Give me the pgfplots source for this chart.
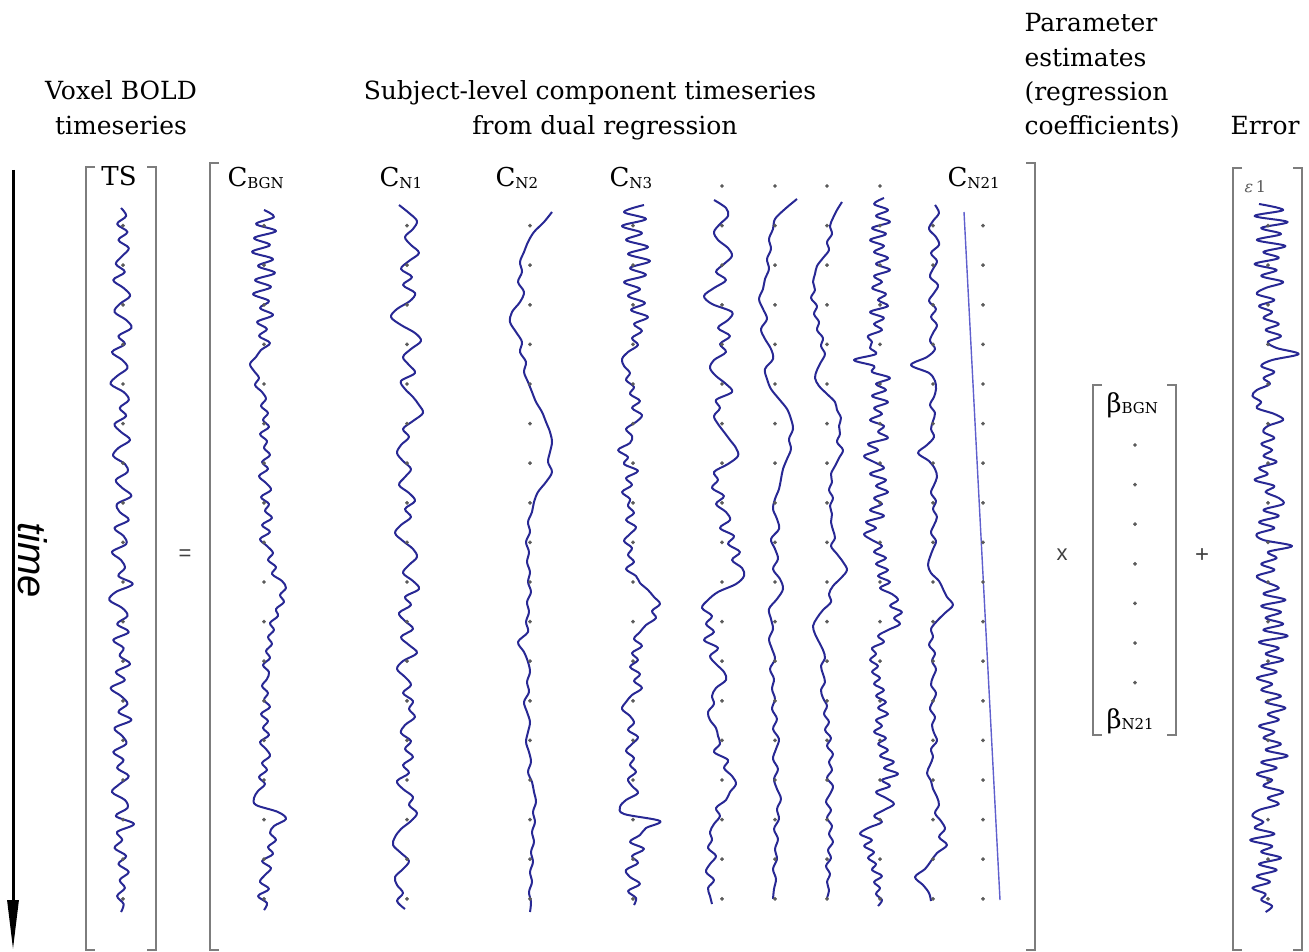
\documentclass[border=0pt]{standalone}
\usepackage{pgfplots}
\pgfplotsset{compat=1.18}
\usepackage{pgfplotstable}
\usetikzlibrary{arrows.meta}
\usepackage{fontspec}
\setmainfont{DejaVu Serif}
\newfontfamily\sansf{Liberation Sans}
\definecolor{serblue}{RGB}{40,40,148}
\definecolor{lineblue}{RGB}{95,95,205}
\definecolor{brk}{RGB}{125,125,125}
\definecolor{dotc}{RGB}{90,90,90}
\newcommand\fs[1]{\fontsize{#1}{#1}\selectfont}
\newcommand\Cl[2]{#1\raisebox{-1.5pt}{\fs{15}#2}}
\pgfplotstableread[row sep=\\]{y\\186\\225.6\\265.2\\304.8\\344.4\\384.0\\423.6\\463.2\\502.8\\542.4\\582.0\\621.6\\661.2\\700.8\\740.4\\780.0\\819.6\\859.2\\898.8\\}\rowsA
\pgfplotstableread[row sep=\\]{y\\225.6\\265.2\\304.8\\344.4\\384.0\\423.6\\463.2\\502.8\\542.4\\582.0\\621.6\\661.2\\700.8\\740.4\\780.0\\819.6\\859.2\\898.8\\}\rowsB
\pgfplotstableread[row sep=\\]{y\\445.0\\484.6\\524.2\\563.8\\603.4\\643.0\\682.6\\}\rowsC
\tikzset{ser/.style={color=serblue, line width=2pt, no markers, smooth, tension=0.55, line join=round},
  dts/.style={dotc, only marks, mark=*, mark size=1.7pt},
  brk/.style={draw=brk, line width=2.6pt}}
\begin{document}
\begin{tikzpicture}
\begin{axis}[width=1309pt,height=952pt,scale only axis,xmin=0,xmax=1309,ymin=0,ymax=952,
  y dir=reverse,axis lines=none,ticks=none,clip=false]
% grid dots
\addplot[dts] table[x expr=123,y=y]{\rowsB};
\addplot[dts] table[x expr=264,y=y]{\rowsB};
\addplot[dts] table[x expr=407,y=y]{\rowsB};
\addplot[dts] table[x expr=530,y=y]{\rowsB};
\addplot[dts] table[x expr=633,y=y]{\rowsB};
\addplot[dts] table[x expr=722,y=y]{\rowsA};
\addplot[dts] table[x expr=775,y=y]{\rowsA};
\addplot[dts] table[x expr=827,y=y]{\rowsA};
\addplot[dts] table[x expr=880,y=y]{\rowsA};
\addplot[dts] table[x expr=933,y=y]{\rowsB};
\addplot[dts] table[x expr=983,y=y]{\rowsB};
\addplot[dts] table[x expr=1268,y=y]{\rowsB};
\addplot[dts] table[x expr=1135,y=y]{\rowsC};
% TS
\addplot[ser] table[row sep=\\, x expr=121+1.3*\thisrow{d}, y expr=208+8*\coordindex]{d\\
0\\4\\-3\\5\\-2\\6\\1\\-4\\3\\-6\\2\\7\\-1\\-5\\4\\8\\-2\\3\\-7\\1\\5\\-3\\-8\\2\\6\\-1\\4\\-5\\0\\7\\
-2\\-6\\3\\5\\-4\\1\\8\\-3\\-1\\6\\-5\\2\\4\\-7\\0\\3\\-2\\9\\-4\\-9\\1\\5\\-3\\6\\-6\\2\\-1\\7\\-4\\3\\
-8\\0\\5\\-2\\8\\-5\\1\\4\\-6\\2\\-3\\6\\-1\\-7\\3\\5\\-4\\10\\-3\\1\\-5\\4\\-2\\6\\-1\\3\\-3\\2\\0\\};
% C_BGN
\addplot[ser] table[row sep=\\, x expr=264+\thisrow{d}, y expr=210+7*\coordindex]{d\\
0\\10\\-8\\12\\-10\\6\\-12\\9\\-6\\11\\-9\\7\\-11\\5\\-4\\9\\-7\\3\\-5\\6\\-3\\-8\\-14\\-10\\-5\\-9\\-2\\2\\-3\\4\\
-1\\5\\-4\\3\\0\\6\\-2\\4\\-5\\2\\7\\-3\\5\\1\\8\\-2\\6\\-4\\3\\9\\4\\12\\8\\18\\22\\16\\20\\12\\14\\6\\
10\\4\\8\\2\\6\\-1\\5\\3\\-2\\4\\0\\6\\-3\\4\\-1\\5\\-4\\2\\6\\-2\\3\\-5\\1\\-6\\-10\\-8\\14\\22\\10\\6\\
12\\4\\9\\-2\\7\\1\\-4\\5\\-6\\3\\0\\};
% C_N1
\addplot[ser] table[row sep=\\, x expr=407+\thisrow{d}, y expr=205+8*\coordindex]{d\\
-8\\2\\10\\6\\-2\\4\\12\\2\\-6\\5\\-4\\8\\3\\-10\\-16\\-6\\8\\14\\4\\-4\\2\\8\\-6\\-2\\6\\12\\16\\6\\-4\\2\\
-6\\-10\\-4\\4\\-2\\-8\\2\\8\\-2\\4\\-6\\-12\\-4\\6\\10\\2\\-4\\6\\12\\-2\\4\\-8\\-2\\6\\-6\\2\\10\\-4\\-10\\-2\\
4\\-4\\6\\2\\8\\-2\\-6\\4\\-2\\6\\-4\\2\\-10\\-4\\6\\2\\10\\4\\-6\\-12\\-14\\-6\\2\\-4\\-12\\-10\\-4\\-10\\-2\\};
% C_N2
\addplot[ser] table[row sep=\\, x expr=530+\thisrow{d}, y expr=212+10*\coordindex]{d\\
22\\14\\4\\-2\\-6\\-10\\-8\\-12\\-6\\-10\\-18\\-20\\-14\\-8\\-10\\-4\\-6\\-2\\2\\6\\12\\16\\20\\22\\20\\18\\22\\16\\8\\4\\
2\\-2\\0\\-4\\-1\\-3\\0\\-2\\1\\-3\\-1\\-4\\-2\\-12\\-6\\-2\\0\\-3\\-1\\-6\\-3\\0\\-2\\-4\\-1\\1\\-2\\2\\4\\6\\
3\\5\\2\\4\\1\\3\\0\\2\\-1\\1\\0\\};
% C_N3
\addplot[ser] table[row sep=\\, x expr=636+\thisrow{d}, y expr=205+7*\coordindex]{d\\
8\\-12\\10\\-14\\6\\-10\\12\\-8\\14\\-6\\10\\-12\\4\\-8\\9\\-5\\12\\-2\\6\\-4\\2\\-8\\-14\\-12\\-6\\-10\\-2\\-6\\4\\-4\\
6\\0\\-10\\-4\\-6\\-18\\-8\\-12\\2\\-10\\-4\\-14\\-6\\-8\\-2\\-10\\0\\-6\\-12\\-4\\-8\\-2\\-10\\0\\4\\12\\18\\24\\16\\20\\
10\\4\\-2\\6\\-4\\2\\-6\\4\\-2\\6\\-4\\-10\\-14\\-6\\-2\\-8\\2\\-4\\-10\\-2\\-6\\0\\-8\\-4\\2\\-10\\-16\\-12\\24\\10\\
4\\-6\\8\\-4\\2\\-10\\-6\\4\\-8\\0\\-2\\};
% col 5
\addplot[ser] table[row sep=\\, x expr=722+\thisrow{d}, y expr=200+8*\coordindex]{d\\
-8\\4\\6\\-2\\-8\\-4\\6\\10\\2\\-6\\4\\-8\\-18\\-10\\10\\6\\-4\\8\\-2\\4\\-8\\-12\\-6\\4\\10\\-6\\-2\\-8\\-4\\2\\
8\\14\\16\\6\\-8\\-4\\-10\\2\\-6\\4\\8\\-2\\12\\6\\18\\10\\20\\22\\14\\-4\\-14\\-20\\-10\\-16\\-8\\-18\\-4\\-12\\-6\\2\\
4\\-6\\-10\\-8\\-14\\-12\\-6\\-4\\-2\\-8\\6\\2\\10\\14\\8\\4\\-6\\-2\\-8\\-12\\-10\\-14\\-6\\-12\\-16\\-8\\-14\\-12\\-10\\};
% col 6
\addplot[ser] table[row sep=\\, x expr=775+\thisrow{d}, y expr=199+10*\coordindex]{d\\
22\\10\\0\\-2\\-6\\-4\\-8\\-6\\-10\\-12\\-16\\-12\\-8\\-14\\-10\\-4\\-2\\-10\\-8\\-4\\4\\12\\16\\18\\14\\16\\12\\8\\6\\4\\
0\\-2\\2\\4\\-4\\0\\3\\-2\\5\\8\\2\\-6\\-4\\-2\\-6\\-3\\0\\-5\\-1\\-3\\0\\-3\\2\\-2\\4\\1\\-2\\3\\-1\\2\\
6\\2\\4\\-1\\3\\0\\2\\-2\\1\\-1\\-2\\};
% col 7
\addplot[ser] table[row sep=\\, x expr=827+\thisrow{d}, y expr=202+8*\coordindex]{d\\
15\\10\\6\\3\\5\\0\\2\\-4\\-10\\-12\\-14\\-12\\-16\\-10\\-13\\-8\\-10\\-4\\-6\\-2\\-6\\-10\\-12\\-8\\0\\8\\10\\14\\12\\13\\
10\\16\\12\\8\\4\\5\\2\\6\\3\\5\\4\\6\\8\\4\\10\\16\\20\\14\\6\\2\\4\\-4\\-10\\-14\\-12\\-8\\-4\\-2\\-6\\-4\\
-2\\-6\\-4\\0\\-3\\2\\-2\\4\\0\\6\\2\\5\\0\\6\\3\\-1\\4\\0\\5\\2\\6\\1\\4\\-1\\3\\0\\2\\0\\};
% col 8
\addplot[ser] table[row sep=\\, x expr=880+\thisrow{d}, y expr=198+6*\coordindex]{d\\
4\\-6\\8\\-4\\10\\-8\\6\\-10\\4\\-6\\8\\-4\\10\\-6\\2\\-8\\6\\-2\\8\\-10\\4\\-6\\2\\-12\\-8\\-10\\-4\\-26\\-6\\-8\\
10\\-4\\6\\-8\\8\\-6\\2\\-10\\4\\-2\\8\\-12\\-2\\-16\\-6\\4\\-10\\6\\-4\\8\\-6\\2\\-10\\4\\-14\\-4\\-16\\-8\\2\\-6\\
6\\-4\\8\\-2\\10\\0\\12\\18\\10\\22\\14\\20\\8\\-2\\4\\-8\\-4\\-10\\-2\\-8\\0\\-6\\4\\-4\\6\\-2\\8\\-4\\2\\-6\\
6\\-2\\8\\0\\14\\4\\18\\2\\10\\-4\\6\\14\\4\\-6\\2\\-12\\-20\\-8\\-16\\-6\\-12\\-4\\-8\\2\\-6\\0\\-4\\2\\-2\\};
% col 9
\addplot[ser] table[row sep=\\, x expr=933+\thisrow{d}, y expr=205+8*\coordindex]{d\\
2\\6\\0\\-4\\3\\6\\-2\\4\\0\\-3\\5\\1\\-4\\3\\-2\\4\\0\\-3\\2\\-6\\-22\\-4\\2\\3\\1\\-3\\2\\0\\-2\\1\\
-6\\-15\\-4\\2\\4\\1\\-2\\3\\0\\4\\1\\-2\\3\\0\\-3\\-5\\-2\\6\\10\\14\\20\\12\\4\\-2\\0\\-4\\2\\-1\\3\\0\\
-2\\3\\0\\-3\\2\\-1\\1\\4\\-2\\0\\-3\\-6\\-2\\0\\4\\6\\2\\8\\12\\6\\14\\4\\-2\\-8\\-18\\-10\\-4\\-2\\};
% C_N21
\addplot[lineblue, line width=1.4pt, no markers] coordinates {(964,212) (1000,900)};
% Error
\addplot[ser] table[row sep=\\, x expr=1270+1.1*\thisrow{d}, y expr=204+6*\coordindex]{d\\
-10\\12\\-14\\16\\-8\\10\\-12\\14\\-6\\8\\-14\\6\\-8\\12\\-4\\-12\\4\\-10\\2\\-6\\8\\-4\\10\\-2\\6\\26\\2\\-8\\4\\-6\\
0\\-12\\-16\\-8\\-12\\4\\12\\-2\\-6\\4\\-8\\2\\-6\\6\\-10\\-2\\-14\\4\\-4\\8\\12\\-6\\8\\-10\\4\\-12\\-6\\20\\-2\\6\\
-8\\4\\-12\\-4\\8\\-6\\14\\-8\\10\\-4\\12\\-6\\16\\-10\\8\\-4\\12\\-8\\6\\-12\\2\\-8\\10\\-4\\14\\-2\\8\\-10\\4\\-6\\
10\\-4\\16\\-8\\6\\-12\\2\\-6\\12\\-2\\8\\-10\\-16\\-6\\-14\\4\\-18\\2\\-8\\10\\-10\\6\\-12\\0\\-16\\-4\\-8\\2\\-4\\};
% brackets
\draw[brk] (95,167) -- (86,167) -- (86,950) -- (95,950);
\draw[brk] (147,167) -- (156,167) -- (156,950) -- (147,950);
\draw[brk] (219,163) -- (210,163) -- (210,950) -- (219,950);
\draw[brk] (1026,163) -- (1035,163) -- (1035,950) -- (1026,950);
\draw[brk] (1102,385) -- (1093,385) -- (1093,735) -- (1102,735);
\draw[brk] (1167,385) -- (1176,385) -- (1176,735) -- (1167,735);
\draw[brk] (1242,168) -- (1233,168) -- (1233,950) -- (1242,950);
\draw[brk] (1293,168) -- (1302,168) -- (1302,950) -- (1293,950);
% time arrow
\draw[black, line width=3pt, -{Triangle[length=50pt,width=11pt]}] (13,170) -- (13,950);
\node[rotate=-90, font=\sansf\itshape\fs{40}] at (33,560) {time};
% operators
\node[font=\sansf\fs{22}, text=black!75] at (185,555) {=};
\node[font=\sansf\fs{22}, text=black!75] at (1062,555) {x};
\node[font=\sansf\fs{24}, text=black!75] at (1202,556) {+};
% titles
\node[anchor=base, font=\fs{25}] at (121,100) {Voxel BOLD};
\node[anchor=base, font=\fs{25}] at (121,135) {timeseries};
\node[anchor=base, font=\fs{25}] at (590,100) {Subject-level component timeseries};
\node[anchor=base, font=\fs{25}] at (605,135) {from dual regression};
\node[anchor=base west, font=\fs{25}] at (1021,32) {Parameter};
\node[anchor=base west, font=\fs{25}] at (1021,67) {estimates};
\node[anchor=base west, font=\fs{25}] at (1021,101) {(regression};
\node[anchor=base west, font=\fs{25}] at (1021,135) {coefficients)};
\node[anchor=base west, font=\fs{25}] at (1227,135) {Error};
% labels
\node[anchor=base, font=\fs{26}] at (119,186) {TS};
\node[anchor=base west, font=\fs{26}] at (224,187) {\Cl{C}{BGN}};
\node[anchor=base west, font=\fs{26}] at (376,187) {\Cl{C}{N1}};
\node[anchor=base west, font=\fs{26}] at (492,187) {\Cl{C}{N2}};
\node[anchor=base west, font=\fs{26}] at (606,187) {\Cl{C}{N3}};
\node[anchor=base west, font=\fs{26}] at (944,187) {\Cl{C}{N21}};
\node[anchor=base west, font=\fs{26}] at (1103,412) {\Cl{β}{BGN}};
\node[anchor=base west, font=\fs{26}] at (1103,728) {\Cl{β}{N21}};
\node[anchor=base west, font=\fs{16}, text=black!65] at (1241,193) {\itshape ε\upshape\,1};
\end{axis}
\path (current axis.south west) rectangle (current axis.north east);
\end{tikzpicture}
\end{document}
